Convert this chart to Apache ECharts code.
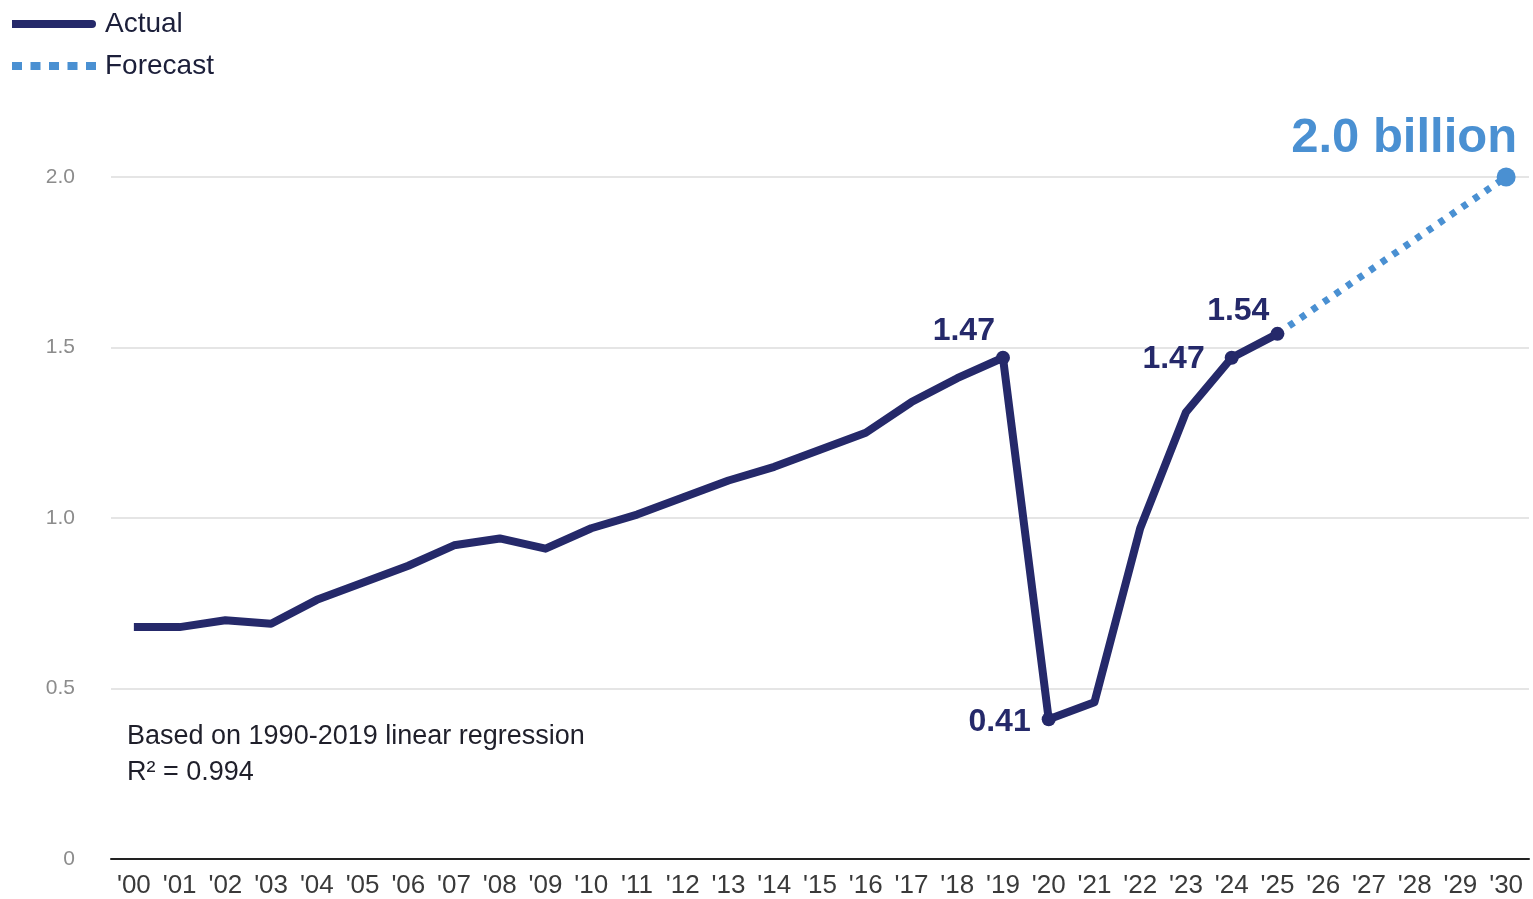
<html>
    <head>
        <meta charset="utf-8">
        <script src="https://cdn.jsdelivr.net/npm/echarts@6/dist/echarts.min.js"></script>
        <style>
            html, body { margin: 0; padding: 0; background: #fff; }
            #main { width: 1533px; height: 899px; }
        </style>
    </head>
    <body>
        <div id="main"></div>

        <script>

        // Years on the x axis ('00 .. '30)
        var years = ["'00", "'01", "'02", "'03", "'04", "'05", "'06", "'07", "'08", "'09",
                     "'10", "'11", "'12", "'13", "'14", "'15", "'16", "'17", "'18", "'19",
                     "'20", "'21", "'22", "'23", "'24", "'25", "'26", "'27", "'28", "'29", "'30"];

        // Actual values, billions ('00 .. '25)
        var actualValues = [0.68, 0.68, 0.70, 0.69, 0.76, 0.81, 0.86, 0.92, 0.94, 0.91,
                            0.97, 1.01, 1.06, 1.11, 1.15, 1.20, 1.25, 1.34, 1.41, 1.47,
                            0.41, 0.46, 0.97, 1.31, 1.47, 1.54];

        // Forecast line: from '25 to '30
        var forecastYears = ["'25", "'30"];
        var forecastValues = [1.54, 2.0];

        // Highlighted points on the actual line and their labels
        var markedYears = ["'19", "'20", "'24", "'25"];
        var markedLabels = ['1.47', '0.41', '1.47', '1.54'];

        var endLabel = '2.0 billion';
        var noteText = 'Based on 1990-2019 linear regression\nR\u00b2 = 0.994';

        var yTicks = { min: 0, max: 2.0, interval: 0.5 };

        var navy = '#25296a';
        var blue = '#4a90d2';
        var font = '"Liberation Sans", Arial, sans-serif';

        // legend swatches: solid bar and a row of dots
        var solidIcon = 'path://M0,0h80a4,4 0 0 1 0,8h-80z';
        var dottedIcon = 'path://M0,0h10v8h-10z M18.5,0h10v8h-10z M37,0h10v8h-10z M55.5,0h10v8h-10z M74,0h10v8h-10z';

        // label placement for each marked point (style only)
        var markedLabelPos = [
            { distance: 1, offset: [0, -27] },
            { distance: 11, offset: [0, 3] },
            { distance: 20, offset: [0, 1] },
            { distance: 1, offset: [0, -23] }
        ];

        var actualData = actualValues.map(function (v, i) {
            var k = markedYears.indexOf(years[i]);
            if (k < 0) {
                return v;
            }
            return {
                value: v,
                symbol: 'circle',
                symbolSize: 14,
                label: {
                    show: true,
                    formatter: markedLabels[k],
                    position: 'left',
                    distance: markedLabelPos[k].distance,
                    offset: markedLabelPos[k].offset,
                    color: navy,
                    fontFamily: font,
                    fontWeight: 'bold',
                    fontSize: 32
                }
            };
        });

        var forecastData = years.map(function (y) {
            var k = forecastYears.indexOf(y);
            if (k < 0) {
                return null;
            }
            if (k === forecastYears.length - 1) {
                return {
                    value: forecastValues[k],
                    symbol: 'circle',
                    symbolSize: 19,
                    label: {
                        show: true,
                        formatter: endLabel,
                        position: 'top',
                        align: 'right',
                        distance: 5,
                        offset: [11, 0],
                        color: blue,
                        fontFamily: font,
                        fontWeight: 'bold',
                        fontSize: 49
                    }
                };
            }
            return forecastValues[k];
        });

        var option = {
            animation: false,
            backgroundColor: '#fff',
            legend: {
                orient: 'vertical',
                left: 7,
                top: 5,
                itemWidth: 84,
                itemHeight: 8,
                itemGap: 14,
                textStyle: {
                    color: '#1c1f3a',
                    fontFamily: font,
                    fontSize: 28,
                    padding: [0, 0, 0, 4]
                },
                data: [
                    { name: 'Actual', icon: solidIcon },
                    { name: 'Forecast', icon: dottedIcon }
                ]
            },
            grid: {
                left: 111,
                right: 4,
                top: 177,
                bottom: 39
            },
            xAxis: {
                type: 'category',
                data: years,
                boundaryGap: true,
                axisLine: {
                    lineStyle: { color: '#222', width: 2 }
                },
                axisTick: {
                    alignWithLabel: true,
                    inside: true,
                    length: 6,
                    lineStyle: { color: '#222', width: 1.5 }
                },
                axisLabel: {
                    interval: 0,
                    margin: 14,
                    color: '#3a3a3a',
                    fontFamily: font,
                    fontSize: 26
                },
                splitLine: { show: false }
            },
            yAxis: {
                type: 'value',
                min: yTicks.min,
                max: yTicks.max,
                interval: yTicks.interval,
                axisLine: { show: false },
                axisTick: { show: false },
                axisLabel: {
                    margin: 36,
                    color: '#8c8c8c',
                    fontFamily: font,
                    fontSize: 21,
                    formatter: function (v) {
                        return v === 0 ? '0' : v.toFixed(1);
                    }
                },
                splitLine: {
                    lineStyle: { color: '#dcdcdc', width: 1.5 }
                }
            },
            graphic: [
                {
                    type: 'text',
                    left: 127,
                    top: 719,
                    style: {
                        text: noteText,
                        fill: '#1f1f2a',
                        font: '27px ' + font,
                        lineHeight: 36
                    }
                }
            ],
            series: [
                {
                    name: 'Forecast',
                    type: 'line',
                    data: forecastData,
                    connectNulls: true,
                    symbol: 'none',
                    color: blue,
                    itemStyle: { color: blue },
                    lineStyle: {
                        color: blue,
                        width: 7,
                        type: [6, 8]
                    },
                    z: 2
                },
                {
                    name: 'Actual',
                    type: 'line',
                    data: actualData,
                    symbol: 'none',
                    color: navy,
                    itemStyle: { color: navy },
                    lineStyle: {
                        color: navy,
                        width: 8,
                        join: 'round'
                    },
                    z: 3
                }
            ]
        };

        var myChart = echarts.init(document.getElementById('main'));
        myChart.setOption(option);

        </script>
    </body>
</html>
